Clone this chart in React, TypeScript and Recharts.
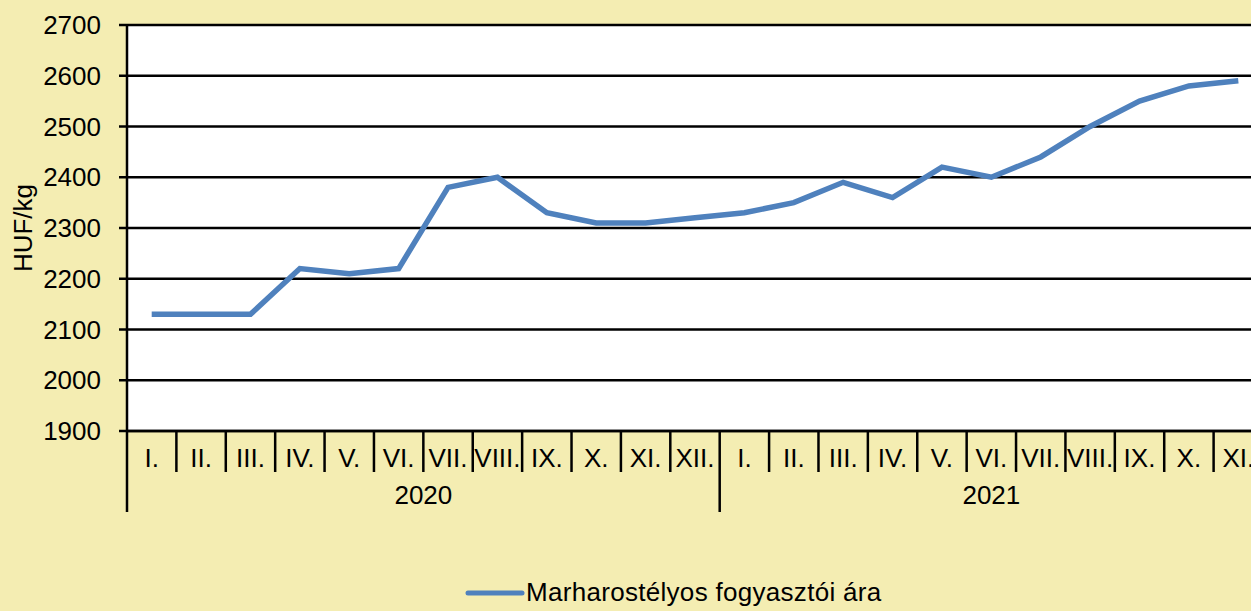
import { LineChart, Line, XAxis, YAxis, CartesianGrid, Legend } from "recharts";

const MONTHS = [
  "I.", "II.", "III.", "IV.", "V.", "VI.", "VII.", "VIII.", "IX.", "X.", "XI.", "XII.",
  "I.", "II.", "III.", "IV.", "V.", "VI.", "VII.", "VIII.", "IX.", "X.", "XI.",
];
const YEARS = ["2020", "2021"];
const YEAR_MONTHS = [12, 11];
const PRICES = [
  2130, 2130, 2130, 2220, 2210, 2220, 2380, 2400, 2330, 2310, 2310, 2320,
  2330, 2350, 2390, 2360, 2420, 2400, 2440, 2500, 2550, 2580, 2590,
];
const Y_TICKS = [1900, 2000, 2100, 2200, 2300, 2400, 2500, 2600, 2700];
const SERIES_NAME = "Marharostélyos fogyasztói ára";

const data = MONTHS.map((m, i) => ({ month: m, price: PRICES[i] }));

const W = 1263;
const H = 611;
const LEFT = 127;
const TOP = 25;
const BAND = (W - LEFT) / MONTHS.length;
const FONT = "'Liberation Sans', Arial, sans-serif";
const FS = 26;
const BG = "#F4EDB2";
const BLUE = "#4F81BD";

// start index of each year on the category axis
const yearStarts = YEAR_MONTHS.map((_, i) => YEAR_MONTHS.slice(0, i).reduce((a, b) => a + b, 0));

function MonthTick(props: any) {
  const { x, y, payload, index } = props;
  const left = x - BAND / 2;
  const yi = yearStarts.indexOf(index);
  return (
    <g>
      <line x1={left} x2={left} y1={y} y2={yi >= 0 ? y + 81 : y + 41} stroke="#000" strokeWidth={2.5} />
      <text x={x} y={y + 36} textAnchor="middle" fontSize={FS} fontFamily={FONT} fill="#000">
        {payload.value}
      </text>
      {yi >= 0 && (
        <text
          x={left + (YEAR_MONTHS[yi] * BAND) / 2}
          y={y + 73}
          textAnchor="middle"
          fontSize={FS}
          fontFamily={FONT}
          fill="#000"
        >
          {YEARS[yi]}
        </text>
      )}
    </g>
  );
}

function LegendContent() {
  return (
    <div style={{ display: "flex", alignItems: "center", marginLeft: 465, marginTop: 6, fontFamily: FONT, fontSize: FS, color: "#000" }}>
      <svg width={60} height={10}>
        <line x1={3} x2={57} y1={5} y2={5} stroke={BLUE} strokeWidth={5} strokeLinecap="round" />
      </svg>
      <span style={{ marginLeft: 1, letterSpacing: 0.3 }}>{SERIES_NAME}</span>
    </div>
  );
}

export default function App() {
  return (
    <div style={{ position: "absolute", left: 0, top: 0, width: 1251, height: H, overflow: "hidden", background: BG }}>
      <LineChart width={W} height={H} data={data} margin={{ top: TOP, right: 0, left: 0, bottom: 0 }}>
        <CartesianGrid vertical={false} stroke="#000" strokeWidth={2.5} fill="#fff" fillOpacity={1} />
        <XAxis
          dataKey="month"
          interval={0}
          height={140}
          padding={{ left: BAND / 2, right: BAND / 2 }}
          tickLine={false}
          tickSize={0}
          tickMargin={0}
          axisLine={{ stroke: "#000", strokeWidth: 2.5 }}
          tick={<MonthTick />}
        />
        <YAxis
          domain={[1900, 2700]}
          ticks={Y_TICKS}
          width={LEFT}
          tickSize={8}
          tickMargin={18}
          axisLine={{ stroke: "#000", strokeWidth: 2.5 }}
          tickLine={{ stroke: "#000", strokeWidth: 2.5 }}
          tick={{ fill: "#000", fontSize: FS, fontFamily: FONT }}
          label={{ value: "HUF/kg", angle: -90, position: "insideLeft", offset: 23, style: { fill: "#000", fontSize: FS, fontFamily: FONT, textAnchor: "middle" } }}
        />
        <Line
          type="linear"
          dataKey="price"
          name={SERIES_NAME}
          stroke={BLUE}
          strokeWidth={5.5}
          dot={false}
          activeDot={false}
          isAnimationActive={false}
        />
        <Legend verticalAlign="bottom" height={40} content={<LegendContent />} />
      </LineChart>
    </div>
  );
}
